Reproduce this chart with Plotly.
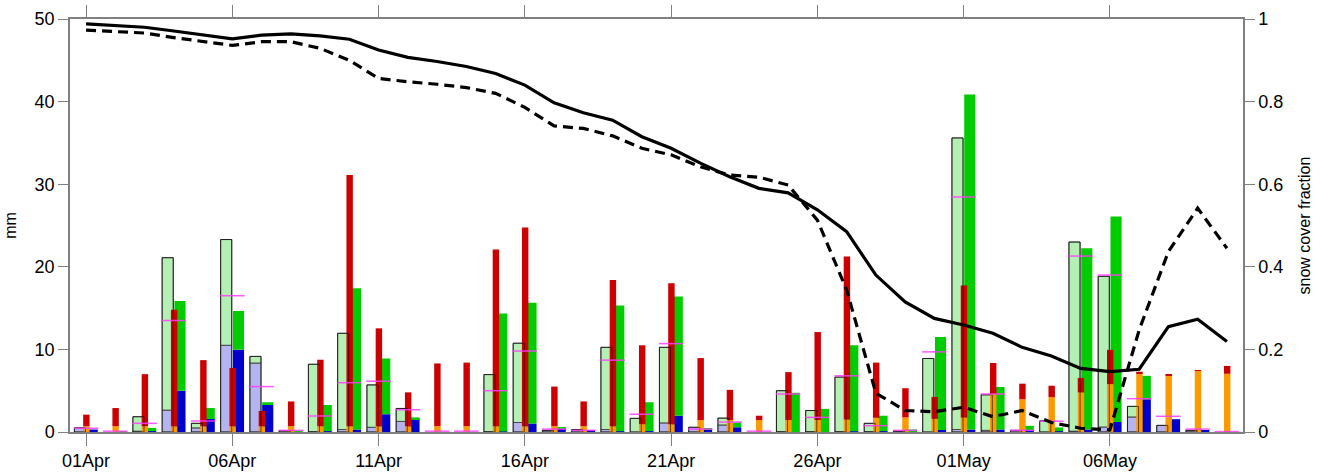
import plotly.graph_objects as go

days = ["01Apr","02Apr","03Apr","04Apr","05Apr","06Apr","07Apr","08Apr","09Apr","10Apr",
        "11Apr","12Apr","13Apr","14Apr","15Apr","16Apr","17Apr","18Apr","19Apr","20Apr",
        "21Apr","22Apr","23Apr","24Apr","25Apr","26Apr","27Apr","28Apr","29Apr","30Apr",
        "01May","02May","03May","04May","05May","06May","07May","08May","09May","10May"]
tick_days = ["01Apr","06Apr","11Apr","16Apr","21Apr","26Apr","01May","06May"]

# observed bars (light): lavender bottom part and total height (mm)
obs_blue = [0.5,0,0.1,2.65,0.5,10.5,8.35,0,0.05,0.3,
            0.57,1.28,0,0,0.05,1.15,0.2,0.2,0.3,0,
            1.1,0.57,0.85,0,0.05,0.05,0.05,0.05,0.1,0,
            0.3,0.2,0.2,0,0.1,0.6,1.82,0.8,0.2,0]
obs_total = [0.5,0,1.85,21.1,1.05,23.3,9.15,0.15,8.2,11.95,
             5.7,2.85,0,0,6.95,10.75,0.2,0.3,10.25,1.65,
             10.25,0.57,1.68,0,5.0,2.6,6.65,1.05,0.1,8.9,
             35.6,4.5,0.2,1.35,23.0,18.85,3.1,0.8,0.2,0]
# narrow bars: orange bottom part and red total height (mm)
mid_orange = [0.7,0.7,0.7,0.7,0.7,0.7,0.7,0.7,0.7,0.7,
              0.7,0.7,0.7,0.7,0.7,0.7,0.7,0.7,0.7,0.95,
              0.95,1.45,1.45,1.45,1.45,1.45,1.52,1.72,1.77,1.6,
              1.77,4.6,3.97,4.23,4.8,5.8,7.1,6.9,7.4,7.05]
mid_total = [2.1,2.9,7.0,14.8,8.7,7.75,2.55,3.7,8.75,31.1,
             12.55,4.8,8.3,8.4,22.1,24.75,5.5,3.7,18.4,10.5,
             18.0,8.95,5.1,1.97,7.25,12.1,21.25,8.4,5.3,4.25,
             17.75,8.35,5.85,5.6,6.55,9.95,7.3,7.0,7.45,8.0]
# model bars: blue bottom part and green total height (mm)
mod_blue = [0.3,0,0.1,5.0,1.57,9.97,3.27,0,0.1,0.3,
            2.15,1.57,0,0,0.05,1.03,0.45,0.2,0.1,0.1,
            1.97,0.35,0.57,0,0,0,0.1,0.1,0.1,0.25,
            0.3,0.3,0.2,0.1,0.3,1.22,3.97,1.55,0.2,0]
mod_total = [0.3,0.05,0.5,15.85,2.9,14.65,3.6,0.05,3.27,17.4,
             8.9,1.77,0,0,14.35,15.65,0.55,0.2,15.3,3.6,
             16.4,0.45,1.15,0,4.75,2.8,10.5,1.97,0.3,11.5,
             40.85,5.45,0.75,0.55,22.25,26.1,6.8,1.55,0.2,0]
# magenta level (mm)
magenta_level = [0.45,0.1,1.05,13.5,1.33,16.5,5.5,0.2,1.94,5.97,
                 6.15,2.7,0.1,0.1,5.0,9.8,0.35,0.2,8.7,2.15,
                 10.7,0.35,1.2,0.1,4.6,1.77,6.8,0.77,0.2,9.7,
                 28.45,4.6,0.2,1.3,21.3,19.0,4.03,1.9,0.35,0.05]
# snow cover fraction lines
scf_solid = [0.988,0.984,0.98,0.971,0.962,0.952,0.961,0.964,0.959,0.951,
             0.925,0.907,0.897,0.885,0.868,0.84,0.797,0.773,0.755,0.715,
             0.687,0.651,0.618,0.59,0.579,0.538,0.485,0.38,0.315,0.275,
             0.259,0.239,0.205,0.184,0.154,0.146,0.152,0.255,0.273,0.219]
scf_dashed = [0.973,0.97,0.966,0.955,0.945,0.936,0.945,0.945,0.929,0.90,
              0.856,0.848,0.842,0.834,0.82,0.786,0.741,0.735,0.717,0.687,
              0.671,0.642,0.622,0.617,0.598,0.513,0.344,0.094,0.052,0.049,
              0.06,0.037,0.052,0.023,0.009,0.005,0.247,0.437,0.542,0.445]

pos = list(range(len(days)))
tick_pos = [days.index(d) for d in tick_days]

def nz(v):
    return [x if x > 0 else None for x in v]

def diff(a, b):
    return [t - s if t - s > 0 else None for t, s in zip(a, b)]

OBS_OFF, OBS_W = -0.40, 0.38
MID_OFF, MID_W = -0.10, 0.22
MOD_OFF, MOD_W = 0.02, 0.38
edge = "#4a4a4a"

fig = go.Figure()
fig.add_bar(x=pos, y=nz(obs_blue), base=0, offset=OBS_OFF, width=OBS_W,
            marker=dict(color="#b4b4f0", line=dict(color=edge, width=1)))
fig.add_bar(x=pos, y=diff(obs_total, obs_blue), base=obs_blue, offset=OBS_OFF, width=OBS_W,
            marker=dict(color="#b4f0b4", line=dict(color=edge, width=1)))
fig.add_bar(x=pos, y=nz(mod_blue), base=0, offset=MOD_OFF, width=MOD_W,
            marker=dict(color="#0000cc", line=dict(width=0)))
fig.add_bar(x=pos, y=diff(mod_total, mod_blue), base=mod_blue, offset=MOD_OFF, width=MOD_W,
            marker=dict(color="#00cc00", line=dict(width=0)))
fig.add_bar(x=pos, y=nz(mid_orange), base=0, offset=MID_OFF, width=MID_W,
            marker=dict(color="#ff9900", line=dict(width=0)))
fig.add_bar(x=pos, y=diff(mid_total, mid_orange), base=mid_orange, offset=MID_OFF, width=MID_W,
            marker=dict(color="#cc0000", line=dict(width=0)))
fig.add_bar(x=pos, y=nz(obs_total), base=0, offset=OBS_OFF, width=OBS_W,
            marker=dict(color="rgba(0,0,0,0)", line=dict(color="rgba(0,0,0,0.6)", width=1)))

mx, my = [], []
for p, v in zip(pos, magenta_level):
    mx += [p - 0.42, p + 0.42, None]
    my += [v, v, None]
fig.add_scatter(x=mx, y=my, mode="lines", line=dict(color="rgba(255,60,255,0.85)", width=1.5),
                hoverinfo="skip")

fig.add_scatter(x=pos, y=scf_solid, yaxis="y2", mode="lines",
                line=dict(color="black", width=3.2))
fig.add_scatter(x=pos, y=scf_dashed, yaxis="y2", mode="lines",
                line=dict(color="black", width=3.2, dash="10px,6px"))

axis_col = "#808080"
font = dict(family="Liberation Sans, Arial, sans-serif", size=18, color="black")
fig.update_layout(
    width=1320, height=476,
    margin=dict(l=70, r=77, t=19, b=44, autoexpand=False),
    plot_bgcolor="white", paper_bgcolor="white",
    barmode="overlay", showlegend=False, font=font,
    xaxis=dict(range=[-0.55, 39.55], tickvals=tick_pos, ticktext=tick_days,
               ticks="outside", ticklen=12, tickcolor=axis_col, tickwidth=1.2,
               showline=True, linecolor=axis_col, linewidth=1.5, mirror="ticks",
               showgrid=False, zeroline=False, automargin=False),
    yaxis=dict(range=[0, 50], tickvals=[0, 10, 20, 30, 40, 50],
               ticks="outside", ticklen=10, tickcolor=axis_col, tickwidth=1.2,
               showline=True, linecolor=axis_col, linewidth=1.5,
               showgrid=False, zeroline=False, automargin=False,
               title=dict(text="mm", font=dict(size=16), standoff=14)),
    yaxis2=dict(range=[0, 1], tickvals=[0, 0.2, 0.4, 0.6, 0.8, 1],
                ticktext=["0", "0.2", "0.4", "0.6", "0.8", "1"],
                overlaying="y", side="right",
                ticks="outside", ticklen=10, tickcolor=axis_col, tickwidth=1.2,
                showline=True, linecolor=axis_col, linewidth=1.5,
                showgrid=False, zeroline=False, automargin=False,
                title=dict(text="snow cover fraction", font=dict(size=16), standoff=16)),
)

fig.write_html("out.html", config={"displayModeBar": False},
               post_script="document.body.style.margin='0px';document.body.style.overflow='hidden';")
